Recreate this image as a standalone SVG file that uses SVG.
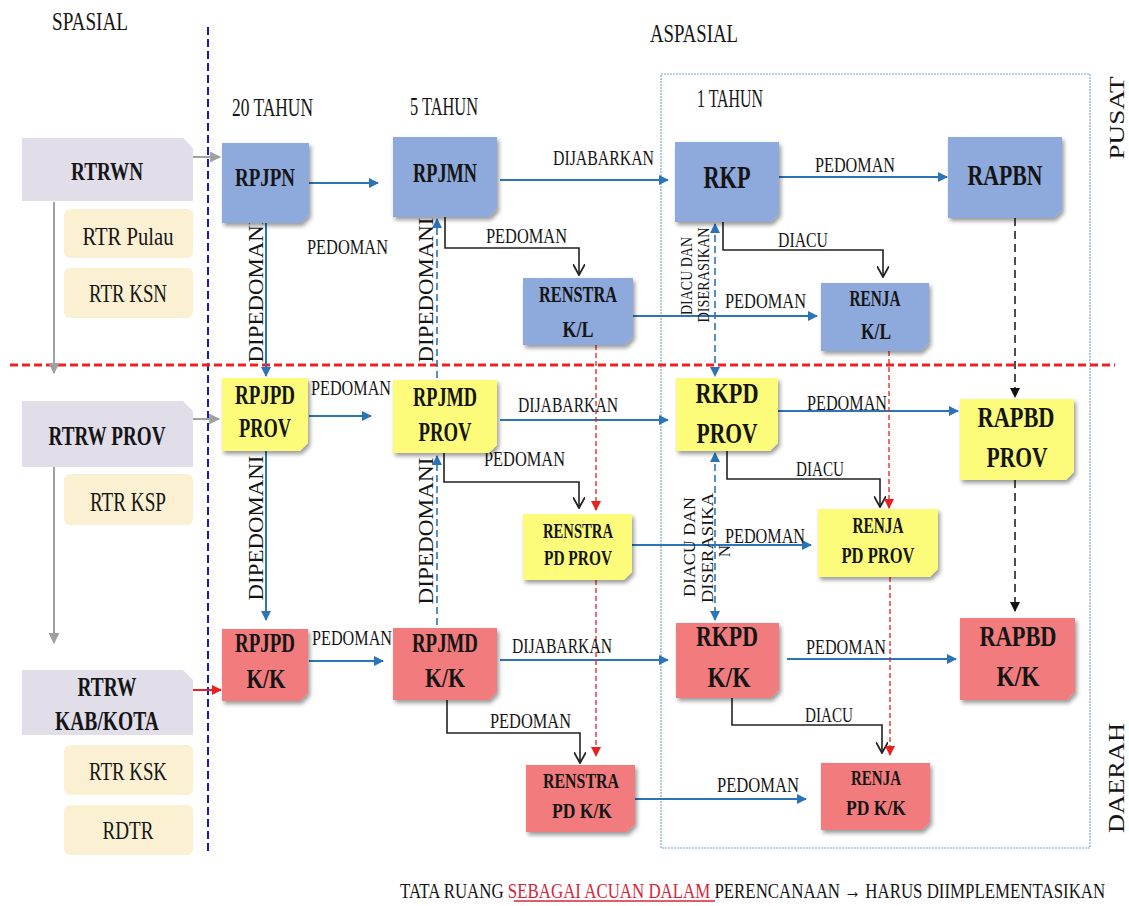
<svg xmlns="http://www.w3.org/2000/svg" width="1129" height="906" viewBox="0 0 1129 906">
<style>
text{font-family:"Liberation Serif","Times New Roman",serif;fill:#151515}
.b{font-weight:bold;text-anchor:middle}
.m{text-anchor:middle}
.lbl{font-size:22px}
.blue{fill:#8EA9DB}
.yel{fill:#FCFC7A}
.red{fill:#F27B7D}
.lav{fill:#E1DEEA}
.crm{fill:#FCF0D2}
.node{filter:url(#sh)}
.bl{stroke:#2C74B8;stroke-width:2;fill:none;marker-end:url(#ab)}
.bld{stroke:#2C74B8;stroke-width:1.6;fill:none;stroke-dasharray:7 4;marker-end:url(#ab)}
.bk{stroke:#222;stroke-width:1.6;fill:none;marker-end:url(#av)}
.rd{stroke:#E82020;stroke-width:1.3;fill:none;stroke-dasharray:5 3;marker-end:url(#ar)}
.kd{stroke:#222;stroke-width:1.6;fill:none;stroke-dasharray:8 5;marker-end:url(#ak)}
.gr{stroke:#A0A0A0;stroke-width:2;fill:none;marker-end:url(#ag)}
</style>
<defs>
<filter id="sh" x="-10%" y="-10%" width="130%" height="135%">
<feDropShadow dx="2" dy="3" stdDeviation="2" flood-color="#000" flood-opacity="0.4"/>
</filter>
<marker id="ab" viewBox="0 0 10 10" refX="9" refY="5" markerWidth="10" markerHeight="10" markerUnits="userSpaceOnUse" orient="auto-start-reverse"><path d="M0,0L10,5L0,10z" fill="#2C74B8"/></marker>
<marker id="av" viewBox="0 0 10 10" refX="9" refY="5" markerWidth="12" markerHeight="12" markerUnits="userSpaceOnUse" orient="auto"><path d="M0,0L9,5L0,10" fill="none" stroke="#222" stroke-width="1.5"/></marker>
<marker id="ar" viewBox="0 0 10 10" refX="9" refY="5" markerWidth="10" markerHeight="10" markerUnits="userSpaceOnUse" orient="auto"><path d="M0,0L10,5L0,10z" fill="#E82020"/></marker>
<marker id="ak" viewBox="0 0 10 10" refX="9" refY="5" markerWidth="10" markerHeight="10" markerUnits="userSpaceOnUse" orient="auto"><path d="M0,0L10,5L0,10z" fill="#111"/></marker>
<marker id="ag" viewBox="0 0 10 10" refX="9" refY="5" markerWidth="11" markerHeight="11" markerUnits="userSpaceOnUse" orient="auto"><path d="M0,0L10,5L0,10z" fill="#A0A0A0"/></marker>
</defs>
<rect width="1129" height="906" fill="#fff"/>

<g id="frame">
<rect x="661" y="74" width="429" height="774" fill="none" stroke="#7FA3D0" stroke-width="1.2" stroke-dasharray="2 1"/>
<line x1="208" y1="27" x2="208" y2="855" stroke="#1717C8" stroke-width="2" stroke-dasharray="8 4"/>
<line x1="10" y1="365" x2="1115" y2="365" stroke="#EE2222" stroke-width="3" stroke-dasharray="8 4"/>
</g>

<g id="headers">
<text x="52" y="30" font-size="26" textLength="76" lengthAdjust="spacingAndGlyphs">SPASIAL</text>
<text x="650" y="42" font-size="26" textLength="88" lengthAdjust="spacingAndGlyphs">ASPASIAL</text>
<text x="232" y="116" font-size="25" textLength="81" lengthAdjust="spacingAndGlyphs">20 TAHUN</text>
<text x="410" y="115" font-size="25" textLength="68" lengthAdjust="spacingAndGlyphs">5 TAHUN</text>
<text x="697" y="107" font-size="25" textLength="66" lengthAdjust="spacingAndGlyphs">1 TAHUN</text>
<text transform="translate(1124,118) rotate(-90)" class="m" font-size="21" textLength="83" lengthAdjust="spacingAndGlyphs">PUSAT</text>
<text transform="translate(1124,778) rotate(-90)" class="m" font-size="23" textLength="110" lengthAdjust="spacingAndGlyphs">DAERAH</text>
</g>

<g id="connectors">
<path class="gr" d="M193,157H220"/>
<path class="gr" d="M190,419H219"/>
<path class="gr" d="M54,202V373"/>
<path class="gr" d="M54,467V643"/>
<path d="M193,690H221" stroke="#E82020" stroke-width="2" fill="none" marker-end="url(#ar)"/>

<path class="bl" d="M309,183H378"/>
<path class="bl" d="M500,180H668"/>
<path class="bl" d="M779,177H947"/>
<path class="bl" d="M633,316H817"/>
<path class="bl" d="M266,223V376"/>
<path class="bl" d="M266,451V620"/>
<path class="bl" d="M309,416H371"/>
<path class="bl" d="M500,420H668"/>
<path class="bl" d="M773,411H958"/>
<path class="bl" d="M632,545H811"/>
<path class="bl" d="M309,661H383"/>
<path class="bl" d="M500,660H668"/>
<path class="bl" d="M787,659H956"/>
<path class="bl" d="M635,799H806"/>

<path class="bld" d="M437,378V219"/>
<path class="bld" d="M437,625V456"/>
<path class="bld" d="M715,224V376" style="marker-start:url(#ab)"/>
<path class="bld" d="M715,453V620" style="marker-start:url(#ab)"/>

<path class="bk" d="M445,217V248H579V275"/>
<path class="bk" d="M723,222V250H883V277"/>
<path class="bk" d="M444,453V482H579V508"/>
<path class="bk" d="M727,451V479H880V507"/>
<path class="bk" d="M447,700V733H580V763"/>
<path class="bk" d="M732,697V725H882V753"/>

<path class="rd" d="M596,345V510"/>
<path class="rd" d="M596,580V756"/>
<path class="rd" d="M889,351V508"/>
<path class="rd" d="M890,577V755"/>

<path class="kd" d="M1015,218V397"/>
<path class="kd" d="M1015,480V611"/>

<g class="lbl">
<text x="307" y="254" textLength="81" lengthAdjust="spacingAndGlyphs">PEDOMAN</text>
<text x="553" y="165" textLength="101" lengthAdjust="spacingAndGlyphs">DIJABARKAN</text>
<text x="815" y="172" textLength="80" lengthAdjust="spacingAndGlyphs">PEDOMAN</text>
<text x="486" y="243" textLength="81" lengthAdjust="spacingAndGlyphs">PEDOMAN</text>
<text x="778" y="247" textLength="50" lengthAdjust="spacingAndGlyphs">DIACU</text>
<text x="725" y="308" textLength="81" lengthAdjust="spacingAndGlyphs">PEDOMAN</text>
<text x="311" y="395" textLength="80" lengthAdjust="spacingAndGlyphs">PEDOMAN</text>
<text x="518" y="412" textLength="100" lengthAdjust="spacingAndGlyphs">DIJABARKAN</text>
<text x="484" y="466" textLength="81" lengthAdjust="spacingAndGlyphs">PEDOMAN</text>
<text x="807" y="410" textLength="80" lengthAdjust="spacingAndGlyphs">PEDOMAN</text>
<text x="796" y="476" textLength="48" lengthAdjust="spacingAndGlyphs">DIACU</text>
<text x="725" y="543" textLength="80" lengthAdjust="spacingAndGlyphs">PEDOMAN</text>
<text x="312" y="645" textLength="80" lengthAdjust="spacingAndGlyphs">PEDOMAN</text>
<text x="512" y="653" textLength="100" lengthAdjust="spacingAndGlyphs">DIJABARKAN</text>
<text x="806" y="654" textLength="80" lengthAdjust="spacingAndGlyphs">PEDOMAN</text>
<text x="490" y="728" textLength="81" lengthAdjust="spacingAndGlyphs">PEDOMAN</text>
<text x="805" y="722" textLength="48" lengthAdjust="spacingAndGlyphs">DIACU</text>
<text x="717" y="792" textLength="82" lengthAdjust="spacingAndGlyphs">PEDOMAN</text>
</g>
<g font-size="22">
<text class="m" transform="translate(263,290) rotate(-90)" textLength="145" lengthAdjust="spacingAndGlyphs">DIPEDOMANI</text>
<text class="m" transform="translate(263,528) rotate(-90)" textLength="145" lengthAdjust="spacingAndGlyphs">DIPEDOMANI</text>
<text class="m" transform="translate(433,290) rotate(-90)" textLength="145" lengthAdjust="spacingAndGlyphs">DIPEDOMANI</text>
<text class="m" transform="translate(433,531) rotate(-90)" textLength="147" lengthAdjust="spacingAndGlyphs">DIPEDOMANI</text>
</g>
<g font-size="17">
<text class="m" transform="translate(692,276) rotate(-90)" textLength="78" lengthAdjust="spacingAndGlyphs">DIACU DAN</text>
<text class="m" transform="translate(709,275) rotate(-90)" textLength="95" lengthAdjust="spacingAndGlyphs">DISERASIKAN</text>
<text class="m" transform="translate(695,547) rotate(-90)" textLength="100" lengthAdjust="spacingAndGlyphs">DIACU DAN</text>
<text class="m" transform="translate(713,548) rotate(-90)" textLength="110" lengthAdjust="spacingAndGlyphs">DISERASIKA</text>
<text class="m" transform="translate(730,551) rotate(-90)">N</text>
</g>
</g>

<g id="n-rtrwn"><path class="lav" d="M22,138H183L193,148V201H22Z"/><text class="b" x="107" y="180" font-size="26" textLength="72" lengthAdjust="spacingAndGlyphs">RTRWN</text></g>
<g id="n-rtrpulau"><rect class="crm" x="64" y="209" width="129" height="49" rx="6"/><text class="m" x="128" y="245" font-size="26" textLength="91" lengthAdjust="spacingAndGlyphs">RTR Pulau</text></g>
<g id="n-rtrksn"><rect class="crm" x="64" y="268" width="129" height="50" rx="6"/><text class="m" x="128" y="302" font-size="26" textLength="78" lengthAdjust="spacingAndGlyphs">RTR KSN</text></g>
<g id="n-rtrwprov"><path class="lav" d="M22,401H183L193,411V467H22Z"/><text class="b" x="107" y="445" font-size="28" textLength="117" lengthAdjust="spacingAndGlyphs">RTRW PROV</text></g>
<g id="n-rtrksp"><rect class="crm" x="64" y="474" width="129" height="51" rx="6"/><text class="m" x="128" y="511" font-size="27" textLength="76" lengthAdjust="spacingAndGlyphs">RTR KSP</text></g>
<g id="n-rtrwkab"><path class="lav" d="M22,670H183L193,680V735H22Z"/><text class="b" x="107" y="696" font-size="28" textLength="59" lengthAdjust="spacingAndGlyphs">RTRW</text><text class="b" x="107" y="730" font-size="28" textLength="104" lengthAdjust="spacingAndGlyphs">KAB/KOTA</text></g>
<g id="n-rtrksk"><rect class="crm" x="64" y="745" width="129" height="50" rx="6"/><text class="m" x="128" y="780" font-size="26" textLength="78" lengthAdjust="spacingAndGlyphs">RTR KSK</text></g>
<g id="n-rdtr"><rect class="crm" x="64" y="805" width="129" height="50" rx="6"/><text class="m" x="128" y="839" font-size="26" textLength="51" lengthAdjust="spacingAndGlyphs">RDTR</text></g>

<g id="n-rpjpn"><path class="blue node" d="M222,143H309V215L301,223H222Z"/><text class="b" x="265" y="186" font-size="26" textLength="60" lengthAdjust="spacingAndGlyphs">RPJPN</text></g>
<g id="n-rpjmn"><path class="blue node" d="M393,137H497V209L489,217H393Z"/><text class="b" x="445" y="182" font-size="28" textLength="64" lengthAdjust="spacingAndGlyphs">RPJMN</text></g>
<g id="n-rkp"><path class="blue node" d="M675,142H779V214L771,222H675Z"/><text class="b" x="727" y="188" font-size="32" textLength="47" lengthAdjust="spacingAndGlyphs">RKP</text></g>
<g id="n-rapbn"><path class="blue node" d="M948,137H1062V210L1054,218H948Z"/><text class="b" x="1005" y="185" font-size="30" textLength="75" lengthAdjust="spacingAndGlyphs">RAPBN</text></g>
<g id="n-renstrakl"><path class="blue node" d="M523,278H633V337L625,345H523Z"/><text class="b" x="578" y="302" font-size="24" textLength="78" lengthAdjust="spacingAndGlyphs">RENSTRA</text><text class="b" x="578" y="337" font-size="24" textLength="31" lengthAdjust="spacingAndGlyphs">K/L</text></g>
<g id="n-renjakl"><path class="blue node" d="M821,283H929V343L921,351H821Z"/><text class="b" x="875" y="306" font-size="24" textLength="51" lengthAdjust="spacingAndGlyphs">RENJA</text><text class="b" x="876" y="339" font-size="24" textLength="30" lengthAdjust="spacingAndGlyphs">K/L</text></g>

<g id="n-rpjpdprov"><path class="yel node" d="M222,378H308V443L300,451H222Z"/><text class="b" x="265" y="404" font-size="27" textLength="60" lengthAdjust="spacingAndGlyphs">RPJPD</text><text class="b" x="265" y="437" font-size="27" textLength="52" lengthAdjust="spacingAndGlyphs">PROV</text></g>
<g id="n-rpjmdprov"><path class="yel node" d="M393,380H497V445L489,453H393Z"/><text class="b" x="445" y="406" font-size="28" textLength="64" lengthAdjust="spacingAndGlyphs">RPJMD</text><text class="b" x="445" y="441" font-size="28" textLength="53" lengthAdjust="spacingAndGlyphs">PROV</text></g>
<g id="n-rkpdprov"><path class="yel node" d="M676,378H778V443L770,451H676Z"/><text class="b" x="727" y="403" font-size="30" textLength="63" lengthAdjust="spacingAndGlyphs">RKPD</text><text class="b" x="727" y="443" font-size="30" textLength="61" lengthAdjust="spacingAndGlyphs">PROV</text></g>
<g id="n-rapbdprov"><path class="yel node" d="M960,399H1074V472L1066,480H960Z"/><text class="b" x="1016" y="427" font-size="30" textLength="77" lengthAdjust="spacingAndGlyphs">RAPBD</text><text class="b" x="1017" y="467" font-size="30" textLength="61" lengthAdjust="spacingAndGlyphs">PROV</text></g>
<g id="n-renstraprov"><path class="yel node" d="M523,514H632V572L624,580H523Z"/><text class="b" x="578" y="538" font-size="22" textLength="70" lengthAdjust="spacingAndGlyphs">RENSTRA</text><text class="b" x="578" y="565" font-size="22" textLength="68" lengthAdjust="spacingAndGlyphs">PD PROV</text></g>
<g id="n-renjaprov"><path class="yel node" d="M818,509H938V569L930,577H818Z"/><text class="b" x="878" y="533" font-size="24" textLength="51" lengthAdjust="spacingAndGlyphs">RENJA</text><text class="b" x="878" y="563" font-size="24" textLength="73" lengthAdjust="spacingAndGlyphs">PD PROV</text></g>

<g id="n-rpjpdkk"><path class="red node" d="M222,629H308V693L300,701H222Z"/><text class="b" x="265" y="652" font-size="28" textLength="60" lengthAdjust="spacingAndGlyphs">RPJPD</text><text class="b" x="266" y="688" font-size="28" textLength="39" lengthAdjust="spacingAndGlyphs">K/K</text></g>
<g id="n-rpjmdkk"><path class="red node" d="M393,628H497V692L489,700H393Z"/><text class="b" x="445" y="652" font-size="28" textLength="66" lengthAdjust="spacingAndGlyphs">RPJMD</text><text class="b" x="445" y="687" font-size="28" textLength="40" lengthAdjust="spacingAndGlyphs">K/K</text></g>
<g id="n-rkpdkk"><path class="red node" d="M676,623H779V690L771,698H676Z"/><text class="b" x="727" y="646" font-size="30" textLength="62" lengthAdjust="spacingAndGlyphs">RKPD</text><text class="b" x="729" y="687" font-size="30" textLength="43" lengthAdjust="spacingAndGlyphs">K/K</text></g>
<g id="n-rapbdkk"><path class="red node" d="M960,618H1075V692L1067,700H960Z"/><text class="b" x="1018" y="646" font-size="30" textLength="77" lengthAdjust="spacingAndGlyphs">RAPBD</text><text class="b" x="1018" y="686" font-size="30" textLength="43" lengthAdjust="spacingAndGlyphs">K/K</text></g>
<g id="n-renstrakk"><path class="red node" d="M526,765H635V824L627,832H526Z"/><text class="b" x="581" y="788" font-size="22" textLength="76" lengthAdjust="spacingAndGlyphs">RENSTRA</text><text class="b" x="582" y="818" font-size="22" textLength="60" lengthAdjust="spacingAndGlyphs">PD K/K</text></g>
<g id="n-renjakk"><path class="red node" d="M821,763H930V822L922,830H821Z"/><text class="b" x="876" y="785" font-size="22" textLength="50" lengthAdjust="spacingAndGlyphs">RENJA</text><text class="b" x="876" y="815" font-size="22" textLength="60" lengthAdjust="spacingAndGlyphs">PD K/K</text></g>

<g id="footer">
<g transform="translate(400,898) scale(0.82,1)">
<text x="0" y="0" font-size="21" textLength="860" lengthAdjust="spacingAndGlyphs">TATA RUANG <tspan style="fill:#D8243A">SEBAGAI ACUAN DALAM </tspan> PERENCANAAN → HARUS DIIMPLEMENTASIKAN</text>
</g>
<line x1="514" y1="901" x2="715" y2="901" stroke="#D8243A" stroke-width="1.5"/>
</g>
</svg>
